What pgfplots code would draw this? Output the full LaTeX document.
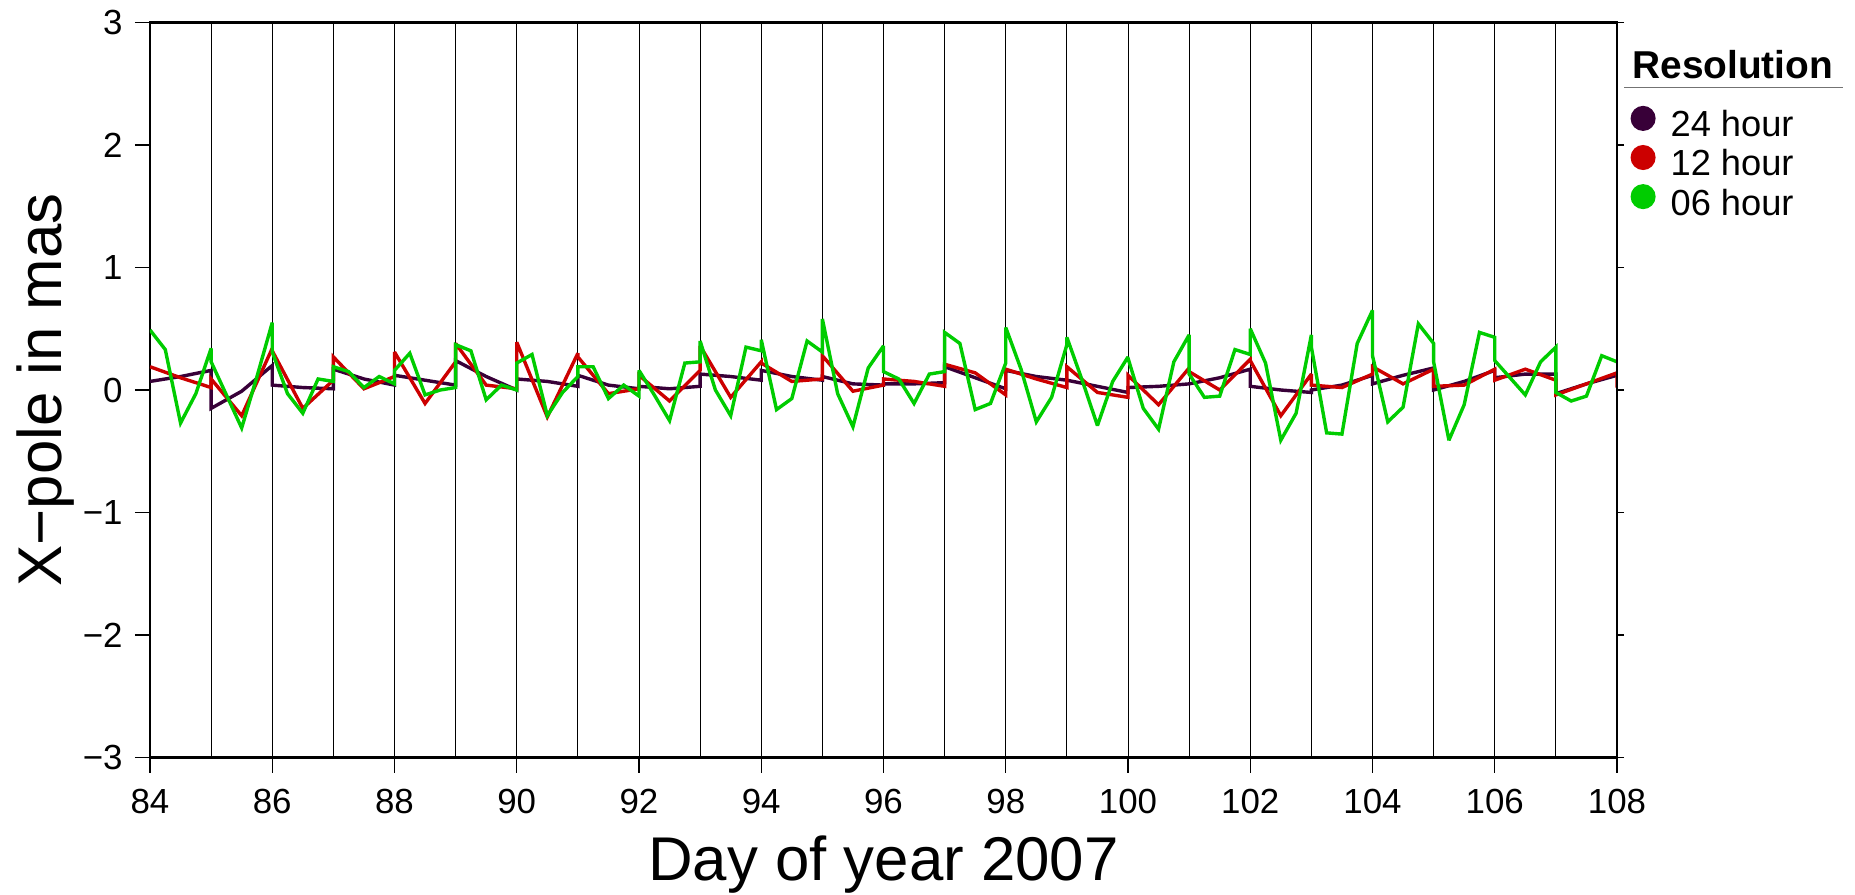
\documentclass[border=0pt]{standalone}
\usepackage{fontspec}
\setmainfont{Liberation Sans}
\usepackage{pgfplots}
\usepackage{pgfplotstable}
\pgfplotsset{compat=1.18}

\definecolor{c24}{RGB}{56,0,56}
\definecolor{c12}{RGB}{204,0,0}
\definecolor{c06}{RGB}{0,204,0}

% X-pole offsets (mas); each day is a separate arc, so the end of one day
% and the start of the next share the same abscissa.
\pgfplotstableread{
x y
84 0.07
84.5 0.11
85 0.16
85 -0.15
85.5 -0.01
86 0.20
86 0.04
86.5 0.02
87 0.01
87 0.17
87.5 0.09
88 0.04
88 0.12
88.5 0.08
89 0.04
89 0.24
89.5 0.11
90 0.00
90 0.09
90.5 0.07
91 0.03
91 0.12
91.5 0.04
92 0.01
92 0.03
92.5 0.01
93 0.03
93 0.13
93.5 0.11
94 0.08
94 0.16
94.5 0.11
95 0.08
95 0.11
95.5 0.05
96 0.04
96 0.05
96.5 0.05
97 0.06
97 0.19
97.5 0.10
98 0.01
98 0.16
98.5 0.11
99 0.08
99 0.08
99.5 0.03
100 -0.02
100 0.02
100.5 0.03
101 0.05
101 0.05
101.5 0.10
102 0.17
102 0.03
102.5 0.00
103 -0.02
103 0.00
103.5 0.04
104 0.12
104 0.05
104.5 0.12
105 0.18
105 0.00
105.5 0.07
106 0.16
106 0.10
106.5 0.13
107 0.13
107 -0.03
107.5 0.05
108 0.12
}\hourA

\pgfplotstableread{
x y
84 0.19
84.5 0.10
85 0.02
85 0.09
85.5 -0.21
86 0.34
86 0.32
86.5 -0.15
87 0.08
87 0.27
87.5 0.01
88 0.11
88 0.31
88.5 -0.11
89 0.23
89 0.38
89.5 0.04
90 0.01
90 0.39
90.5 -0.22
91 0.30
91 0.27
91.5 -0.03
92 0.01
92 0.12
92.5 -0.09
93 0.16
93 0.36
93.5 -0.06
94 0.23
94 0.22
94.5 0.07
95 0.09
95 0.28
95.5 -0.01
96 0.04
96 0.09
96.5 0.07
97 0.03
97 0.21
97.5 0.14
98 -0.04
98 0.17
98.5 0.09
99 0.02
99 0.19
99.5 -0.02
100 -0.06
100 0.12
100.5 -0.12
101 0.18
101 0.15
101.5 0.00
102 0.25
102 0.24
102.5 -0.21
103 0.13
103 0.04
103.5 0.02
104 0.13
104 0.19
104.5 0.05
105 0.17
105 0.03
105.5 0.04
106 0.17
106 0.08
106.5 0.17
107 0.08
107 -0.04
107.5 0.05
108 0.14
108 0.02
}\hourB

\pgfplotstableread{
x y
84 0.49
84.25 0.33
84.5 -0.27
84.75 -0.03
85 0.34
85 0.23
85.25 -0.04
85.5 -0.31
85.75 0.11
86 0.55
86 0.31
86.25 -0.03
86.5 -0.19
86.75 0.09
87 0.07
87 0.19
87.25 0.15
87.5 0.02
87.75 0.11
88 0.05
88 0.16
88.25 0.30
88.5 -0.04
88.75 0.00
89 0.02
89 0.37
89.25 0.32
89.5 -0.08
89.75 0.04
90 0.00
90 0.22
90.25 0.29
90.5 -0.21
90.75 -0.02
91 0.11
91 0.19
91.25 0.19
91.5 -0.07
91.75 0.04
92 -0.05
92 0.16
92.25 -0.04
92.5 -0.25
92.75 0.22
93 0.23
93 0.40
93.25 0.00
93.5 -0.21
93.75 0.35
94 0.32
94 0.41
94.25 -0.16
94.5 -0.07
94.75 0.40
95 0.31
95 0.58
95.25 -0.03
95.5 -0.30
95.75 0.18
96 0.36
96 0.15
96.25 0.09
96.5 -0.11
96.75 0.13
97 0.15
97 0.47
97.25 0.38
97.5 -0.16
97.75 -0.11
98 0.22
98 0.51
98.25 0.17
98.5 -0.26
98.75 -0.06
99 0.37
99 0.43
99.25 0.08
99.5 -0.29
99.75 0.07
100 0.27
100 0.26
100.25 -0.15
100.5 -0.32
100.75 0.23
101 0.45
101 0.13
101.25 -0.06
101.5 -0.05
101.75 0.33
102 0.29
102 0.50
102.25 0.22
102.5 -0.41
102.75 -0.19
103 0.45
103 0.35
103.25 -0.35
103.5 -0.36
103.75 0.38
104 0.65
104 0.28
104.25 -0.26
104.5 -0.14
104.75 0.54
105 0.38
105 0.23
105.25 -0.41
105.5 -0.12
105.75 0.47
106 0.43
106 0.24
106.25 0.10
106.5 -0.04
106.75 0.23
107 0.35
107 -0.02
107.25 -0.09
107.5 -0.05
107.75 0.28
108 0.23
}\hourC

\begin{document}
\begin{tikzpicture}
\begin{axis}[
  scale only axis,
  width=733.5bp, height=367.5bp,
  xmin=84, xmax=108, ymin=-3, ymax=3,
  xtick={84,86,...,108},
  minor xtick={85,87,...,107},
  xtick pos=bottom, ytick pos=left,
  ytick={-3,-2,-1,0,1,2,3},
  yticklabels={−3,−2,−1,0,1,2,3},
  /pgf/number format/assume math mode=true,
  tick align=outside,
  major tick length=7.5bp, minor tick length=0pt,
  every tick/.style={black, line width=0.6bp},
  xmajorgrids, xminorgrids,
  major grid style={black, line width=0.5bp},
  minor grid style={black, line width=0.5bp},
  axis line style={black, line width=1.1bp},
  tick label style={font=\fontsize{17.5}{20}\selectfont},
  xticklabel style={anchor=north, inner sep=0pt},
  yticklabel style={anchor=east, inner sep=0pt},
  xticklabel shift=8bp, yticklabel shift=6bp,
  xlabel={Day of year 2007},
  ylabel={X−pole in mas},
  xlabel style={at={(axis description cs:0.5,-0.1673)}, anchor=base, inner sep=0pt, font=\fontsize{31}{36}\selectfont},
  ylabel style={at={(axis description cs:-0.0600,0.5)}, anchor=base, inner sep=0pt, font=\fontsize{31}{36}\selectfont},
  legend style={at={(axis description cs:1,1)}, anchor=north west,
    xshift=6.6bp, yshift=-41.5bp, draw=none, fill=none, inner sep=0pt,
    row sep=2.6bp, column sep=7.5bp,
    font=\fontsize{18.2}{20}\selectfont,
    nodes={inner sep=0pt}},
  legend cell align=left,
  legend image code/.code={\fill[#1] (0bp,0.34em) circle (5.4bp);},
  every axis plot/.append style={line width=1.7bp, miter limit=3},
]
\addplot[c24, no marks] table[x=x, y=y] {\hourA};
\addlegendentry{24 hour}
\addplot[c12, no marks] table[x=x, y=y] {\hourB};
\addlegendentry{12 hour}
\addplot[c06, no marks] table[x=x, y=y] {\hourC};
\addlegendentry{06 hour}
\end{axis}
% right-hand ticks are shorter than the left-hand ones
\begin{axis}[
  scale only axis,
  width=733.5bp, height=367.5bp,
  xmin=84, xmax=108, ymin=-3, ymax=3,
  hide x axis, axis y line*=right,
  ytick={-3,-2,-1,0,1,2,3}, yticklabels={},
  tick align=outside, major tick length=3.5bp,
  every tick/.style={black, line width=0.6bp},
  axis line style={black, line width=1.1bp},
]
\end{axis}
\node[anchor=base west, inner sep=0pt, font=\bfseries\fontsize{19.5}{23}\selectfont]
  at ([xshift=7.5bp, yshift=-27.9bp]current axis.north east) {Resolution};
\draw[black!55, line width=0.75bp]
  ([xshift=3.5bp, yshift=-32.6bp]current axis.north east) -- ++(109.5bp,0);
\path ([xshift=-75bp, yshift=-68.5bp]current axis.south west)
  rectangle ([xshift=119bp, yshift=11.25bp]current axis.north east);
\end{tikzpicture}
\end{document}
